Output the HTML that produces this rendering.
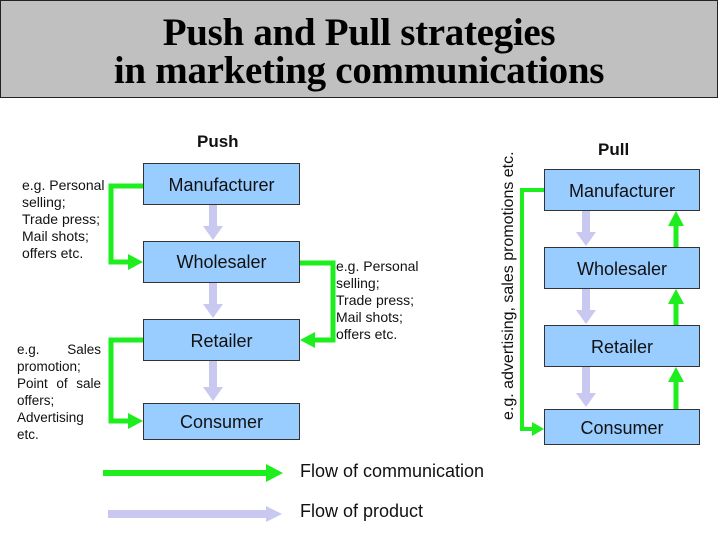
<!DOCTYPE html>
<html><head><style>
body{margin:0;width:720px;height:540px;background:#fff;position:relative;overflow:hidden;font-family:"Liberation Sans",sans-serif}
.title{position:absolute;left:0;top:0;width:718px;height:98px;background:#c0c0c0;border:1px solid #222;text-align:center;font-family:"Liberation Serif",serif;font-weight:bold;font-size:39px;line-height:38px;padding-top:13px;box-sizing:border-box;letter-spacing:-0.3px}
.box{position:absolute;background:#99ccff;border:1px solid #333;box-sizing:border-box;text-align:center;font-size:18px;color:#111}
.t{position:absolute;font-size:14px;line-height:17px;color:#111}
.j div{text-align:justify;text-align-last:justify;white-space:nowrap}
.j div.l{text-align-last:left}
</style></head><body>
<div class="title">Push and Pull strategies<br>in marketing communications</div>
<div class="t" style="left:197px;top:133px;font-size:17px;font-weight:bold">Push</div>
<div class="t" style="left:598px;top:141px;font-size:17px;font-weight:bold">Pull</div>
<svg width="720" height="540" style="position:absolute;left:0;top:0">
<g fill="#c8c8f0">
<rect x="209" y="205" width="8" height="22"/><path d="M203,226h20l-10,14z"/>
<rect x="209" y="283" width="8" height="22"/><path d="M203,304h20l-10,14z"/>
<rect x="209" y="361" width="8" height="27"/><path d="M203,387h20l-10,14z"/>
<rect x="582" y="211" width="8" height="22"/><path d="M576,232h20l-10,14z"/>
<rect x="582" y="289" width="8" height="22"/><path d="M576,310h20l-10,14z"/>
<rect x="582" y="367" width="8" height="27"/><path d="M576,393h20l-10,14z"/>
<rect x="108" y="510" width="160" height="8"/><path d="M266,506v16l16,-8z"/>
</g>
<g fill="none" stroke="#1eee1e" stroke-width="5">
<path d="M143,186H111V262H130"/>
<path d="M143,340H111V421H130"/>
<path d="M300,263H333V340H313"/>
<path d="M544,190H522V429H534" stroke-width="4"/>
<path d="M676,409V380"/>
<path d="M676,325V302"/>
<path d="M676,247V224"/>
<path d="M103,473H268" stroke-width="6"/>
</g>
<g fill="#1eee1e">
<path d="M128,254L143,262L128,270z"/>
<path d="M128,413L143,421L128,429z"/>
<path d="M315,332L300,340L315,348z"/>
<path d="M532,422L544,429L532,436z"/>
<path d="M668,382L676,367L684,382z"/>
<path d="M668,304L676,289L684,304z"/>
<path d="M668,226L676,211L684,226z"/>
<path d="M266,464L283,473L266,482z"/>
</g>
<text transform="translate(513,420) rotate(-90)" font-family="Liberation Sans" font-size="16" fill="#111">e.g. advertising, sales promotions etc.</text>
</svg>
<div class="box" style="left:143px;top:163px;width:157px;height:42px;line-height:42px;padding-bottom:6px">Manufacturer</div>
<div class="box" style="left:143px;top:241px;width:157px;height:42px;line-height:40px">Wholesaler</div>
<div class="box" style="left:143px;top:319px;width:157px;height:42px;line-height:42px">Retailer</div>
<div class="box" style="left:143px;top:403px;width:157px;height:37px;line-height:37px">Consumer</div>
<div class="box" style="left:544px;top:169px;width:156px;height:42px;line-height:42px">Manufacturer</div>
<div class="box" style="left:544px;top:247px;width:156px;height:42px;line-height:42px">Wholesaler</div>
<div class="box" style="left:544px;top:325px;width:156px;height:42px;line-height:42px">Retailer</div>
<div class="box" style="left:544px;top:409px;width:156px;height:36px;line-height:36px">Consumer</div>
<div class="t" style="left:22px;top:177px">e.g. Personal<br>selling;<br>Trade press;<br>Mail shots;<br>offers etc.</div>
<div class="t" style="left:336px;top:258px">e.g. Personal<br>selling;<br>Trade press;<br>Mail shots;<br>offers etc.</div>
<div class="t j" style="left:17px;top:341px;width:84px;font-size:13.5px">
<div>e.g. Sales</div><div class="l">promotion;</div><div>Point of sale</div><div class="l">offers;</div><div class="l">Advertising</div><div class="l">etc.</div></div>
<div class="t" style="left:300px;top:463px;font-size:18px">Flow of communication</div>
<div class="t" style="left:300px;top:503px;font-size:18px">Flow of product</div>
</body></html>
